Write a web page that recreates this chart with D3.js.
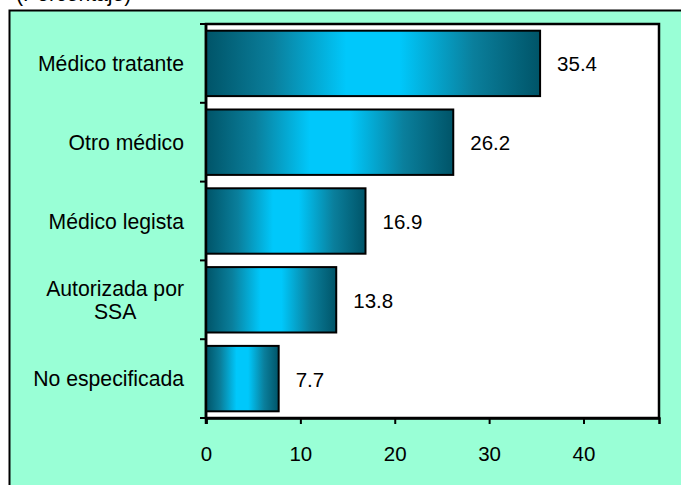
<!DOCTYPE html>
<html>
<head>
<meta charset="utf-8">
<script src="https://cdn.jsdelivr.net/npm/d3@7"></script>
<style>
  html, body { margin: 0; padding: 0; background: #ffffff; }
  svg { display: block; }
  text { font-family: "Liberation Sans", Arial, sans-serif; fill: #000; }
</style>
</head>
<body>
<script>
const categories = [["Médico tratante"], ["Otro médico"], ["Médico legista"], ["Autorizada por", "SSA"], ["No especificada"]];
const values = [35.4, 26.2, 16.9, 13.8, 7.7];
const xTicks = [0, 10, 20, 30, 40];
const unitLabel = "(Porcentaje)";

const W = 681, H = 485;
const plot = { left: 206, top: 24, right: 659, bottom: 418 };
const fs = 20.5;
const fsCat = 21.2;

const svg = d3.select("body").append("svg").attr("width", W).attr("height", H);

const defs = svg.append("defs");
const grad = defs.append("linearGradient").attr("id", "barGrad")
  .attr("x1", "0%").attr("y1", "0%").attr("x2", "100%").attr("y2", "0%");
[[0, "#005468"], [0.2, "#0a7f9c"], [0.42, "#00c8fb"], [0.58, "#00c8fb"], [0.8, "#0a7f9c"], [1, "#005468"]]
  .forEach(([o, c]) => grad.append("stop").attr("offset", o).attr("stop-color", c));

// Top unit label (cut off, as in the reference)
svg.append("text").attr("x", 16).attr("y", 1).attr("font-size", fsCat).text(unitLabel);

// Outer mint box
svg.append("rect").attr("x", 9.5).attr("y", 10.5).attr("width", W + 10).attr("height", H + 10)
  .attr("fill", "#99ffd6").attr("stroke", "#000").attr("stroke-width", 2);

const x = d3.scaleLinear().domain([0, 48]).range([plot.left, plot.right]);
const y = d3.scaleBand().domain(d3.range(categories.length)).range([plot.top, plot.bottom])
  .paddingInner(0.17).paddingOuter(0.085);

// Plot area
svg.append("rect").attr("x", plot.left).attr("y", plot.top)
  .attr("width", plot.right - plot.left).attr("height", plot.bottom - plot.top)
  .attr("fill", "#ffffff").attr("stroke", "#000").attr("stroke-width", 2.5);

// Bars
svg.append("g").selectAll("rect").data(values).join("rect")
  .attr("x", x(0))
  .attr("y", (d, i) => y(i))
  .attr("width", d => x(d) - x(0))
  .attr("height", y.bandwidth())
  .attr("fill", "url(#barGrad)")
  .attr("stroke", "#000").attr("stroke-width", 2);

// Value labels
svg.append("g").selectAll("text").data(values).join("text")
  .attr("x", d => x(d) + 17)
  .attr("y", (d, i) => y(i) + y.bandwidth() / 2 + 8)
  .attr("font-size", fs)
  .text(d => d.toFixed(1));

// X axis
const xAxis = svg.append("g").attr("transform", `translate(0,${plot.bottom})`)
  .call(d3.axisBottom(x).tickValues(xTicks).tickSize(6).tickPadding(22).tickFormat(d3.format("d")));
xAxis.select(".domain").attr("stroke", "#000").attr("stroke-width", 2.5);
xAxis.selectAll(".tick line").attr("stroke", "#000").attr("stroke-width", 2);
xAxis.selectAll(".tick text").attr("font-size", fs).attr("font-family", "Liberation Sans, Arial, sans-serif").attr("fill", "#000");

// Y axis line and ticks at band boundaries
svg.append("line").attr("x1", plot.left).attr("x2", plot.left).attr("y1", plot.top).attr("y2", plot.bottom + 6)
  .attr("stroke", "#000").attr("stroke-width", 2.5);
const step = y.step();
const boundaries = d3.range(categories.length + 1).map(i => plot.top + i * step);
svg.append("g").selectAll("line").data(boundaries).join("line")
  .attr("x1", plot.left - 6).attr("x2", plot.left)
  .attr("y1", d => d).attr("y2", d => d)
  .attr("stroke", "#000").attr("stroke-width", 2);

// Category labels: block right-aligned, lines centered
const labelRight = 184;
const lineH = 23.5;
categories.forEach((lines, i) => {
  const cy = y(i) + y.bandwidth() / 2;
  const g = svg.append("g");
  const texts = lines.map((ln, k) => g.append("text").attr("font-size", fsCat)
    .attr("text-anchor", "middle")
    .attr("y", cy + 7.5 + (k - (lines.length - 1) / 2) * lineH)
    .text(ln));
  const maxW = d3.max(texts, t => t.node().getComputedTextLength());
  texts.forEach(t => t.attr("x", labelRight - maxW / 2));
});
</script>
</body>
</html>
